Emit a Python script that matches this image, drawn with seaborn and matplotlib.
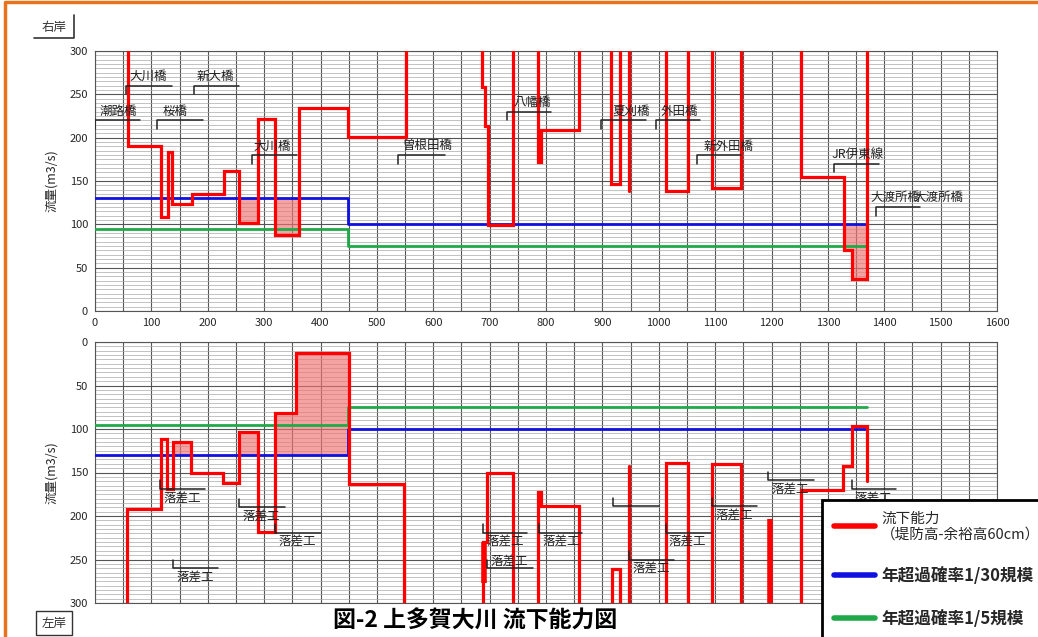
import numpy as np
import pandas as pd
import matplotlib.pyplot as plt
import seaborn as sns
from matplotlib.lines import Line2D

nan = np.nan

# right bank (top panel): flow capacity step line, NaN splits separate pieces
top_cap_x = [58, 58, 117, 117, 129, 129, 137, 137, 172, 172, 228, 228, 256, 256, 289, 289,
             320, 320, 362, 362, 448, 448, 551, 551, nan,
             687, 687, 691, 691, 697, 697, 742, 742, nan,
             786, 786, 791, 791, 858, 858, nan,
             916, 916, 932, 932, nan,
             947, 947, nan,
             1012, 1012, 1052, 1052, nan,
             1095, 1095, 1146, 1146, nan,
             1253, 1253, 1328, 1328, 1343, 1343, 1369, 1369]
top_cap_q = [300, 190, 190, 108, 108, 183, 183, 124, 124, 135, 135, 161, 161, 102, 102, 222,
             222, 88, 88, 234, 234, 201, 201, 300, nan,
             300, 258, 258, 213, 213, 99, 99, 300, nan,
             300, 172, 172, 209, 209, 300, nan,
             300, 146, 146, 300, nan,
             300, 138, nan,
             300, 139, 139, 300, nan,
             300, 142, 142, 300, nan,
             300, 155, 155, 70, 70, 37, 37, 300]

# left bank (bottom panel)
bot_cap_x = [56, 56, 117, 117, 127, 127, 138, 138, 170, 170, 227, 227, 256, 256, 289, 289,
             320, 320, 357, 357, 450, 450, 549, 549, nan,
             689, 689, 696, 696, 741, 741, nan,
             786, 786, 791, 791, 858, 858, nan,
             917, 917, 932, 932, nan,
             947, 947, nan,
             1012, 1012, 1051, 1051, nan,
             1095, 1095, 1146, 1146, nan,
             1253, 1253, 1326, 1326, 1343, 1343, 1369, 1369]
bot_cap_q = [300, 192, 192, 111, 111, 169, 169, 115, 115, 150, 150, 162, 162, 103, 103, 218,
             218, 82, 82, 13, 13, 163, 163, 300, nan,
             300, 230, 230, 150, 150, 300, nan,
             300, 172, 172, 189, 189, 300, nan,
             300, 261, 261, 300, nan,
             300, 142, nan,
             300, 139, 139, 300, nan,
             300, 140, 140, 300, nan,
             300, 170, 170, 142, 142, 97, 97, 160]
bot_thick_x = [690, 1197]
bot_thick_q0 = [230, 203]
bot_thick_q1 = [277, 300]

design_x = [0, 448, 448, 1369]
q30 = [130, 130, 100, 100]
q5 = [95, 95, 75, 75]

top_shade = [(256, 289), (320, 362), (1328, 1369)]
bot_shade = [(138, 170), (256, 289), (320, 450)]

# bridge brackets, top panel
top_names = ['潮路橋', '大川橋', '新大橋', '桜橋', '大川橋', '曽根田橋', '八幡橋',
             '夏刈橋', '外田橋', '新外田橋', 'JR伊東線', '大渡所橋']
top_x0 = [0, 55, 176, 110, 279, 538, 730, 898, 996, 1067, 1310, 1385]
top_x1 = [80, 136, 256, 191, 358, 620, 808, 977, 1074, 1146, 1390, 1463]
top_y = [220, 260, 260, 220, 180, 180, 230, 220, 220, 180, 170, 120]
top_tx = [8, 7, 5, 10, 2, 8, 12, 20, 8, 12, -3, -9]

# drop structures, bottom panel
bot_x0 = [115, 256, 320, 138, 689, 696, 787, 918, 947, 1012, 1095, 1194, 1342]
bot_x1 = [195, 337, 400, 218, 766, 777, 864, 1000, 1027, 1092, 1174, 1275, 1421]
bot_y = [169, 190, 219, 260, 219, 260, 219, 189, 250, 219, 189, 159, 169]
bot_txt = ['below', 'below', 'below', 'below', 'below', 'above', 'below', None,
           'below', 'below', 'below', 'below', 'below']

sns.set_theme(style='white')
plt.rcParams['font.family'] = ['Noto Sans CJK JP', 'DejaVu Sans']

W, H = 1038, 637
fig = plt.figure(figsize=(W / 100, H / 100), dpi=100)


def fx(px):
    return px / W


def fy(py):
    return 1 - py / H


ax_t = fig.add_axes([fx(95), fy(311), fx(997) - fx(95), fy(51) - fy(311)])
ax_b = fig.add_axes([fx(95), fy(603), fx(997) - fx(95), fy(342) - fy(603)])


def pieces(xs, qs):
    df = pd.DataFrame({'x': xs, 'q': qs})
    df['seg'] = df['x'].isna().cumsum()
    return df.dropna()


def level(xs, qs, x):
    for i in range(len(xs) - 1):
        if qs[i] == qs[i + 1] and xs[i] <= x <= xs[i + 1]:
            return qs[i]
    return nan


def shade(ax, xs, qs, ranges):
    for a, b in ranges:
        for i in range(len(xs) - 1):
            x0, x1 = xs[i], xs[i + 1]
            if qs[i] == qs[i + 1] and x0 >= a and x1 <= b and x1 > x0:
                ref = level(design_x, q30, (x0 + x1) / 2)
                ax.fill_between([x0, x1], [qs[i]] * 2, [ref] * 2,
                                color='#f07070', alpha=0.65, lw=0, zorder=2)


for ax, xs, qs, shades in [(ax_t, top_cap_x, top_cap_q, top_shade),
                           (ax_b, bot_cap_x, bot_cap_q, bot_shade)]:
    ax.set_xlim(0, 1600)
    ax.set_xticks(range(0, 1601, 100))
    ax.set_xticks(range(50, 1600, 100), minor=True)
    ax.set_yticks(range(0, 301, 50))
    ax.set_yticks(range(0, 301, 5), minor=True)
    ax.grid(which='major', color='#555555', lw=0.8)
    ax.grid(which='minor', axis='x', color='#555555', lw=0.8)
    ax.grid(which='minor', axis='y', color='#aaaaaa', lw=0.5)
    ax.tick_params(which='both', length=0, labelsize=8, pad=5)
    for s in ax.spines.values():
        s.set_color('#555555')
        s.set_linewidth(0.8)

    shade(ax, xs, qs, shades)
    sns.lineplot(data=pieces(design_x, q5), x='x', y='q', color='#1faa4a', lw=2,
                 estimator=None, sort=False, ax=ax, zorder=3)
    sns.lineplot(data=pieces(design_x, q30), x='x', y='q', color='#1010e0', lw=2,
                 estimator=None, sort=False, ax=ax, zorder=3)
    sns.lineplot(data=pieces(xs, qs), x='x', y='q', units='seg', color='#ff0000',
                 lw=2.3, estimator=None, sort=False, ax=ax, zorder=4,
                 solid_joinstyle='miter')
    ax.set_xlabel('')
    ax.set_ylabel('流量(m3/s)', fontsize=9, labelpad=8)

ax_t.set_ylim(0, 300)
ax_b.set_ylim(300, 0)
ax_b.set_xticklabels([])

ax_b.vlines(bot_thick_x, bot_thick_q0, bot_thick_q1, color='#ff0000', lw=4, zorder=4)

# bridge brackets
for name, x0, x1, y, dx in zip(top_names, top_x0, top_x1, top_y, top_tx):
    ax_t.plot([x0, x0, x1], [y - 10, y, y], color='#222222', lw=1.1, zorder=5)
    ax_t.text(x0 + dx, y + 3, name, fontsize=9, color='#222222', va='bottom', zorder=5)
ax_t.text(1452, 123, '大渡所橋', fontsize=9, color='#222222', va='bottom', zorder=5)

for x0, x1, y, pos in zip(bot_x0, bot_x1, bot_y, bot_txt):
    ax_b.plot([x0, x0, x1], [y - 10, y, y], color='#222222', lw=1.1, zorder=5)
    if pos == 'below':
        ax_b.text(x0 + 6, y + 3, '落差工', fontsize=9, color='#222222', va='top', zorder=5)
    elif pos == 'above':
        ax_b.text(x0 + 6, y - 1, '落差工', fontsize=9, color='#222222', va='bottom', zorder=5)

# bank tags
fig.text(fx(54), fy(27), '右岸', fontsize=9, ha='center', va='center', color='#333333')
fig.add_artist(Line2D([fx(34), fx(74), fx(74)], [fy(38), fy(38), fy(15)],
                      color='#333333', lw=1.2))
fig.text(fx(54), fy(623), '左岸', fontsize=9, ha='center', va='center', color='#333333',
         bbox=dict(boxstyle='square,pad=0.45', fc='white', ec='#333333', lw=1))

# orange frame
fig.add_artist(Line2D([fx(5), fx(5), fx(1038)], [fy(637), fy(2), fy(2)],
                      color='#e8731c', lw=2.5))

fig.text(fx(475), fy(621), '図-2 上多賀大川 流下能力図', fontsize=16.5, fontweight='bold',
         ha='center', va='center', color='black')

handles = [Line2D([], [], color='#ff0000', lw=4),
           Line2D([], [], color='#1010e0', lw=4),
           Line2D([], [], color='#1faa4a', lw=4)]
labels = ['流下能力\n（堤防高-余裕高60cm）', '年超過確率1/30規模', '年超過確率1/5規模']
leg = fig.legend(handles, labels, loc='upper left', bbox_to_anchor=(fx(822), fy(500)),
                 fontsize=12, handlelength=2.5, handletextpad=0.35, labelspacing=1.5,
                 borderpad=0.7, borderaxespad=0, fancybox=False, framealpha=1,
                 edgecolor='black')
leg.get_frame().set_linewidth(2)
leg.set_zorder(10)
leg.get_texts()[0].set_fontsize(10.5)
for t in leg.get_texts()[1:]:
    t.set_fontweight('bold')

fig.savefig('out.png', dpi=100)
